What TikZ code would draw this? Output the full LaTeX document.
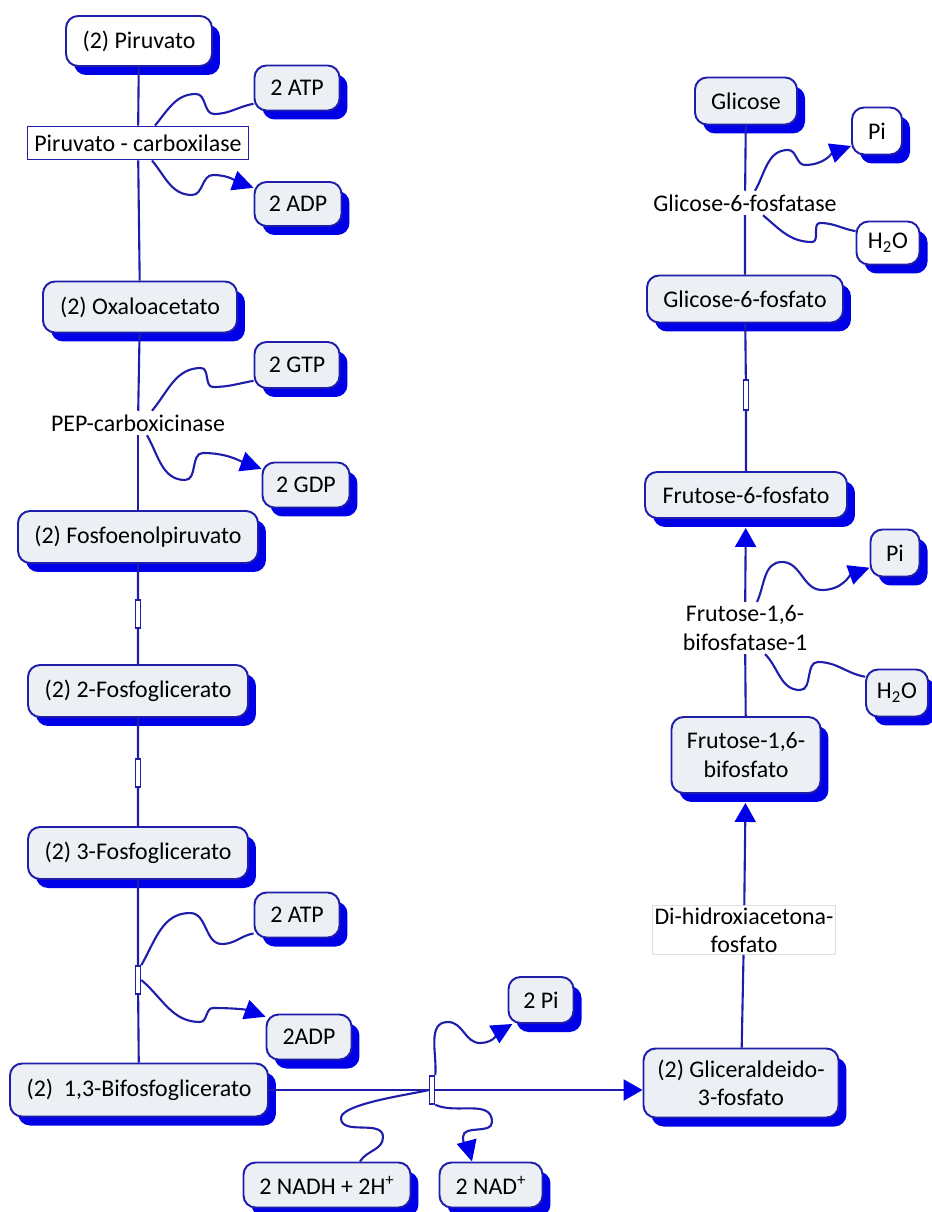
\documentclass[tikz,border=0pt]{standalone}
\usepackage{fontspec}
\setmainfont{Carlito}
\usepackage{tikz}
\usetikzlibrary{shapes,arrows.meta,calc,positioning,shadows}
\definecolor{lineblue}{RGB}{30,30,170}
\definecolor{shadowblue}{RGB}{0,0,232}
\definecolor{boxfill}{RGB}{236,240,245}
\tikzstyle{block} = [rectangle, rounded corners=0.24cm, draw=lineblue, line width=1.1pt, fill=boxfill,
text centered, align=center, inner sep=0pt,
drop shadow={shadow xshift=0.16cm, shadow yshift=-0.18cm, fill=shadowblue, opacity=1}]
\tikzstyle{whiteblock} = [block, fill=white]
\tikzstyle{carbox} = [rectangle, draw=lineblue, line width=1.1pt, fill=white, minimum width=4.42cm,
minimum height=0.66cm, inner sep=0pt]
\tikzstyle{dhapbox} = [rectangle, draw=gray!25, fill=white, align=center, minimum width=3.66cm,
minimum height=0.98cm, inner sep=0pt]
\tikzstyle{enzyme} = [fill=white, align=center, inner sep=2pt]
\tikzstyle{bar} = [rectangle, draw=lineblue, line width=0.9pt, fill=white, minimum width=0.1cm,
minimum height=0.56cm, inner sep=0pt]
\tikzstyle{line} = [draw=lineblue, line width=1.2pt]
\tikzstyle{arrowline} = [line, -{Triangle[length=0.38cm,width=0.42cm,color=shadowblue]}]
\tikzstyle{sidearrow} = [line, -{Triangle[length=0.42cm,width=0.4cm,color=shadowblue]}]

\begin{document}
\begin{tikzpicture}[x=0.02cm, y=0.02cm, font=\fontsize{13.6}{16}\selectfont]
\useasboundingbox (0,0) rectangle (931,-1212);

% left column
\node [whiteblock, minimum width=2.92cm, minimum height=1cm] (pir) at (139,-41) {(2) Piruvato};
\node [block, minimum width=1.7cm, minimum height=0.9cm] (atpa) at (297,-88) {2 ATP};
\node [carbox] (pc) at (138,-143) {Piruvato - carboxilase};
\node [block, minimum width=1.74cm, minimum height=0.88cm] (adpa) at (298,-204) {2 ADP};
\node [block, minimum width=3.88cm, minimum height=1.02cm] (oaa) at (140,-307) {(2) Oxaloacetato};
\node [block, minimum width=1.7cm, minimum height=0.92cm] (gtp) at (297,-365) {2 GTP};
\node [enzyme] (pepck) at (138,-423) {PEP-carboxicinase};
\node [block, minimum width=1.74cm, minimum height=0.9cm] (gdp) at (306,-485) {2 GDP};
\node [block, minimum width=4.8cm, minimum height=1.04cm] (pep) at (138,-537) {(2) Fosfoenolpiruvato};
\node [bar] (bar1) at (138,-614) {};
\node [block, minimum width=4.4cm, minimum height=1.04cm] (pg2) at (138,-691) {(2) 2-Fosfoglicerato};
\node [bar] (bar2) at (138,-773) {};
\node [block, minimum width=4.4cm, minimum height=1.04cm] (pg3) at (138,-853) {(2) 3-Fosfoglicerato};
\node [block, minimum width=1.7cm, minimum height=0.9cm] (atpb) at (297,-915) {2 ATP};
\node [bar] (bar3) at (138,-980) {};
\node [block, minimum width=1.7cm, minimum height=0.9cm] (adpb) at (309,-1037) {2ADP};
\node [block, minimum width=5.16cm, minimum height=1.06cm] (bpg) at (139,-1090) {(2)~ 1,3-Bifosfoglicerato};
\node [bar] (bar4) at (432,-1090) {};
\node [block, minimum width=1.3cm, minimum height=0.92cm] (pi2) at (541,-1000) {2 Pi};
\node [block, minimum width=3.34cm, minimum height=0.9cm] (nadh) at (327,-1185) {2 NADH + 2H\textsuperscript{+}};
\node [block, minimum width=2.06cm, minimum height=0.9cm] (nad) at (491,-1185) {2 NAD\textsuperscript{+}};

% right column
\node [block, minimum width=3.9cm, minimum height=1.38cm] (gap) at (741,-1083) {(2) Gliceraldeido-\\3-fosfato};
\node [dhapbox] (dhap) at (744,-930) {Di-hidroxiacetona-\\fosfato};
\node [block, minimum width=2.98cm, minimum height=1.52cm] (fbp) at (746,-755) {Frutose-1,6-\\bifosfato};
\node [enzyme] (fbpase) at (745,-628) {Frutose-1,6-\\bifosfatase-1};
\node [block, minimum width=0.98cm, minimum height=0.94cm] (pib) at (895,-553) {Pi};
\node [block, minimum width=1.24cm, minimum height=0.94cm] (h2ob) at (897,-693) {H\textsubscript{2}O};
\node [block, minimum width=4.04cm, minimum height=0.92cm] (f6p) at (746,-495) {Frutose-6-fosfato};
\node [bar, minimum height=0.6cm] (bar5) at (746,-395) {};
\node [block, minimum width=3.92cm, minimum height=0.94cm] (g6p) at (745,-299) {Glicose-6-fosfato};
\node [enzyme] (g6pase) at (745,-203) {Glicose-6-fosfatase};
\node [block, minimum width=2.04cm, minimum height=0.94cm] (glc) at (746,-101) {Glicose};
\node [whiteblock, minimum width=1cm, minimum height=0.94cm] (pia) at (877,-131) {Pi};
\node [whiteblock, minimum width=1.26cm, minimum height=0.86cm] (h2oa) at (888,-243) {H\textsubscript{2}O};

% free ends of the side curves
\coordinate (pcin) at ([xshift=0.34cm]pc.north);
\coordinate (pcout) at ([xshift=0.28cm]pc.south);
\coordinate (pckin) at ([xshift=0.28cm]pepck.north);
\coordinate (pckout) at ([xshift=0.18cm]pepck.south);
\coordinate (nadhin) at ([xshift=0.66cm]nadh.north);
\coordinate (nadin) at ([xshift=-0.38cm]nad.north);
\coordinate (g6pin) at ([xshift=0.36cm]g6pase.south);
\coordinate (g6pout) at ([xshift=0.2cm]g6pase.north);
\coordinate (fbpin) at ([xshift=0.4cm]fbpase.south);
\coordinate (fbpout) at ([xshift=0.24cm]fbpase.north);

% main paths
\path [line] (pir) -- (pc);
\path [line] (pc) -- (oaa);
\path [line] (oaa) -- (pepck);
\path [line] (pepck) -- (pep);
\path [line] (pep) -- (bar1) -- (pg2) -- (bar2) -- (pg3) -- (bar3) -- (bpg);
\path [line] (bpg) -- (bar4);
\path [arrowline] (bar4) -- (bar4 -| gap.west);
\path [line] (gap) -- (dhap);
\path [arrowline, shorten >=0.18cm] (dhap) -- (fbp);
\path [line] (fbp) -- (fbpase);
\path [arrowline, shorten >=0.18cm] (fbpase) -- (f6p);
\path [line] (f6p) -- (bar5) -- (g6p);
\path [line] (g6p) -- (g6pase) -- (glc);

% side curves
\path [line] (atpa.200) to[out=190,in=0] (214,-114) to[out=180,in=0] (196,-94) to[out=180,in=50] (pcin);
\path [sidearrow] (pcout) to[out=-50,in=180] (192,-195) to[out=0,in=180] (213,-175) to[out=0,in=160] (adpa.160);
\path [line] (gtp.200) to[out=190,in=0] (213,-387) to[out=180,in=0] (201,-368) to[out=180,in=50] (pckin);
\path [sidearrow] (pckout) to[out=-60,in=180] (185,-480) to[out=0,in=180] (203,-453) to[out=0,in=160] (gdp.160);
\path [line] (atpb.203) to[out=190,in=0] (222,-944) to[out=180,in=0] (190,-913) to[out=180,in=60] (bar3.north east);
\path [sidearrow] (bar3.east) to[out=-40,in=180] (200,-1022) to[out=0,in=180] (213,-1008) to[out=0,in=160] (adpb.155);
\path [sidearrow] (bar4.north east) to[out=85,in=180] (448,-1022) to[out=0,in=180] (480,-1043) to[out=0,in=210] (pi2.220);
\path [line] (nadhin) to[out=60,in=-90] (383,-1137) to[out=90,in=-90] (341,-1118) to[out=90,in=195,looseness=0.4] (bar4.west);
\path [sidearrow] (bar4.south east) to[out=-25,in=90] (492,-1122) to[out=-90,in=90] (463,-1137) to[out=-90,in=105] (nadin);
\path [sidearrow] (g6pout) to[out=60,in=180] (788,-150) to[out=0,in=180] (805,-165) to[out=0,in=200] (pia.210);
\path [line] (h2oa.160) to[out=170,in=0] (820,-223) to[out=180,in=0] (812,-242) to[out=180,in=-40] (g6pin);
\path [sidearrow] (fbpout) to[out=65,in=180] (782,-562) to[out=0,in=180] (822,-590) to[out=0,in=200] (pib.210);
\path [line] (h2ob.153) to[out=170,in=0] (818,-662) to[out=180,in=0] (800,-690) to[out=180,in=-45] (fbpin);
\end{tikzpicture}
\end{document}
